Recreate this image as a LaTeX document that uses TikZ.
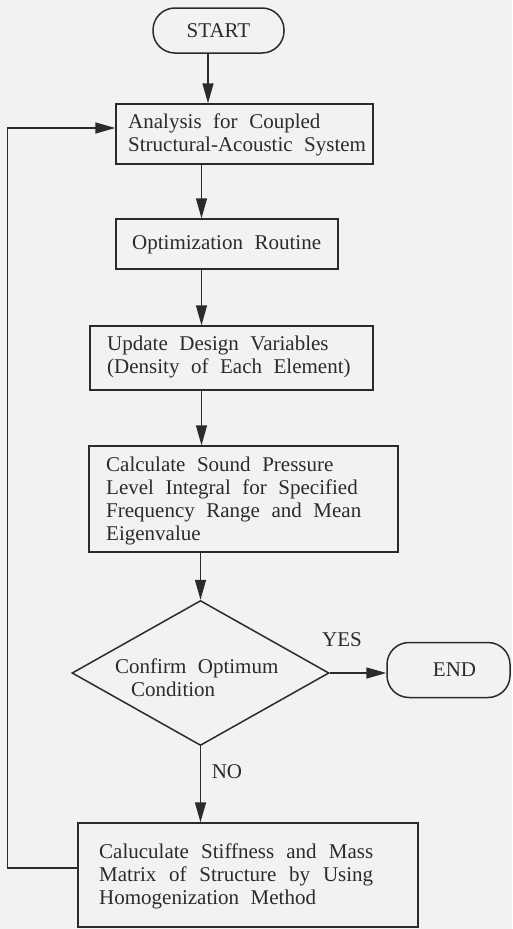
\documentclass[tikz,border=0pt]{standalone}
\usepackage{fontspec}
\setmainfont{Liberation Serif}[WordSpace=2.2]
\newfontfamily\fcserif{Liberation Serif}[WordSpace=2.2]
\usetikzlibrary{arrows.meta,shapes.geometric}
\definecolor{ink}{HTML}{2B2B2E}
\definecolor{paper}{HTML}{F2F1F3}
\begin{document}
\begin{tikzpicture}[x=1pt,y=-1pt,
  font=\fcserif\fontsize{21}{23}\selectfont,
  box/.style={draw=ink, line width=1.5pt, rectangle, inner sep=0pt},
  term/.style={draw=ink, line width=1.5pt, rectangle, rounded corners=22pt, inner sep=0pt, text=ink},
  txt/.style={inner sep=0pt, align=left, anchor=west, text=ink},
  lbl/.style={inner sep=0pt, text=ink},
  arr/.style={draw=ink, line width=1.5pt, -{Triangle[length=20pt,width=11pt]}}]
\fill[paper] (0,0) rectangle (512,929);
\useasboundingbox (0,0) rectangle (512,929);

% nodes
\node[term, minimum width=131pt, minimum height=45pt] (start) at (218.5,30.5) {START};
\node[box, minimum width=257pt, minimum height=60pt] (b1) at (244.5,134) {};
\node[txt] (t1) at (128,134.5) {Analysis for Coupled\\Structural-Acoustic System};
\node[box, minimum width=222pt, minimum height=50pt] (b2) at (227,244) {};
\node[txt] (t2) at (132,244.5) {Optimization Routine};
\node[box, minimum width=283pt, minimum height=64pt] (b3) at (231.5,358) {};
\node[txt] (t3) at (107,356.5) {Update Design Variables\\(Density of Each Element)};
\node[box, minimum width=309pt, minimum height=106pt] (b4) at (243.5,499) {};
\node[txt] (t4) at (106,500.5) {Calculate Sound Pressure\\Level Integral for Specified\\Frequency Range and Mean\\Eigenvalue};
\node[draw=ink, line width=1.5pt, diamond, aspect=1.77, minimum width=257pt, minimum height=145pt, inner sep=0pt] (dec) at (200.5,673) {};
\node[txt] (t5) at (115,678) {Confirm Optimum\\\hspace*{16pt}Condition};
\node[term, minimum width=123pt, minimum height=55pt] (end) at (448.5,670) {\hspace*{12pt}END};
\node[lbl] (yes) at (342,640) {YES};
\node[lbl] (no) at (227,772) {NO};
\node[box, minimum width=340pt, minimum height=104pt] (b5) at (248,875) {};
\node[txt] (t6) at (99,876) {\makebox[274pt][s]{Caluculate Stiffness and Mass}\\\makebox[274pt][s]{Matrix of Structure by Using}\\Homogenization Method};

% connectors
\coordinate (sx) at (208,0);
\coordinate (ax) at (201.5,0);
\draw[arr] (start.south -| sx) -- (b1.north -| sx);
\draw[arr] (b1.south -| ax) -- (b2.north -| ax);
\draw[arr] (b2.south -| ax) -- (b3.north -| ax);
\draw[arr] (b3.south -| ax) -- (b4.north -| ax);
\draw[arr] (b4.south -| dec.north) -- (dec.north);
\draw[arr] (dec.east) -- (dec.east -| end.west);
\draw[arr] (dec.south) -- (b5.north -| dec.south);
\draw[arr] ([yshift=7pt]b5.west) -- ++(-70,0) |- ([yshift=6pt]b1.west);
\end{tikzpicture}
\end{document}
